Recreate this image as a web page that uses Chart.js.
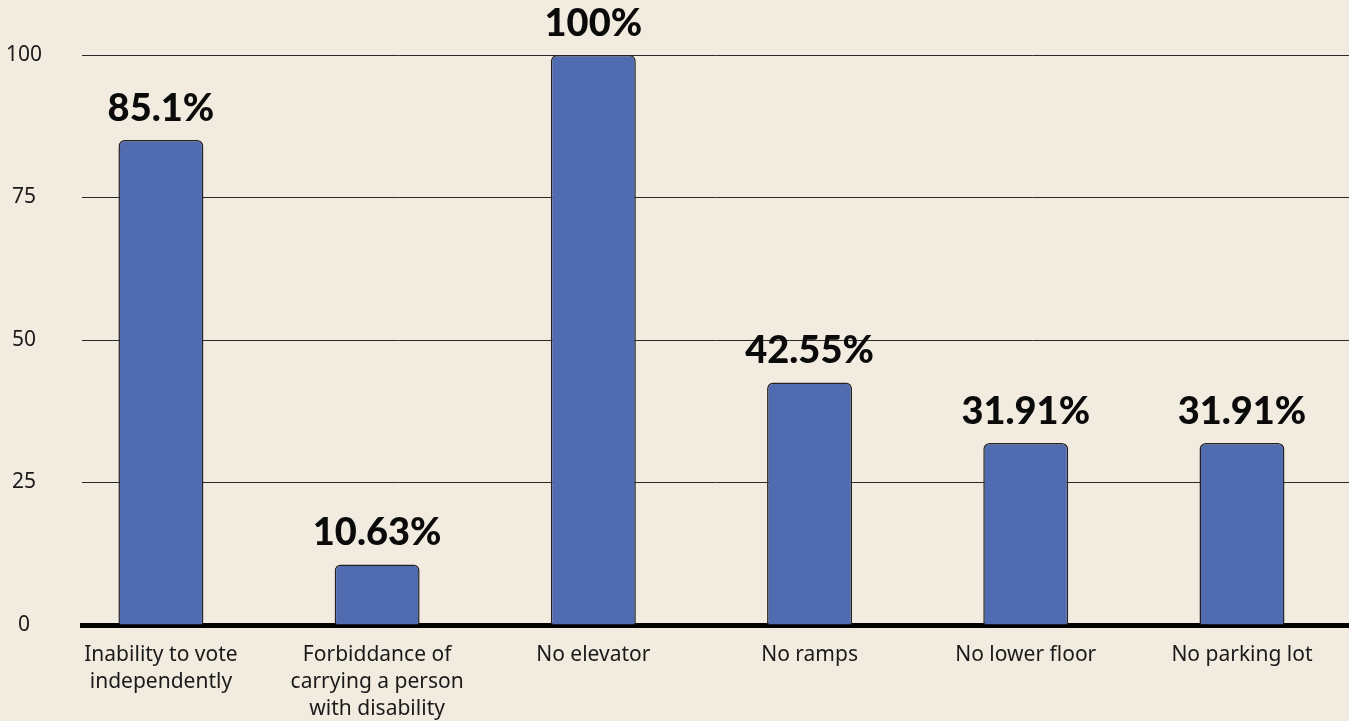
<!DOCTYPE html>
<html>
<head>
<meta charset="utf-8">
<script src="https://cdn.jsdelivr.net/npm/chart.js@4"></script>
<style>
  html, body { margin: 0; padding: 0; background: #f2ebdf; }
  #wrap { width: 1349px; height: 721px; }
</style>
</head>
<body>
<div id="wrap"><canvas id="chart"></canvas></div>
<script>
var categories = [
    ["Inability to vote", "independently"],
    ["Forbiddance of", "carrying a person", "with disability"],
    "No elevator",
    "No ramps",
    "No lower floor",
    "No parking lot"
];
var values = [85.1, 10.63, 100, 42.55, 31.91, 31.91];
var yTicks = [0, 25, 50, 75, 100];

// draws the big percent labels above each bar
const valueLabels = {
    id: "valueLabels",
    afterDatasetsDraw(chart) {
        var ctx = chart.ctx;
        var meta = chart.getDatasetMeta(0);
        ctx.save();
        ctx.font = "900 38px Lato";
        ctx.fillStyle = "#0a0a0a";
        ctx.textAlign = "center";
        ctx.textBaseline = "alphabetic";
        meta.data.forEach(function (bar, i) {
            ctx.fillText(values[i] + "%", bar.x, bar.y - 19);
        });
        ctx.restore();
    }
};

function init_bar_plot(container_name) {
    var ctx = document.getElementById(container_name).getContext("2d");
    const config = {
        type: "bar",
        data: {
            datasets: [{
                data: values.map((v, i) => ({ x: i, y: v })),
                backgroundColor: "#506bb0",
                borderColor: "#222",
                borderWidth: 1.5,
                borderRadius: 6,
                borderSkipped: "bottom",
                categoryPercentage: 1,
                barPercentage: 0.393
            }]
        },
        options: {
            responsive: true,
            maintainAspectRatio: false,
            animation: false,
            plugins: {
                legend: { display: false },
                tooltip: { enabled: false }
            },
            scales: {
                x: {
                    type: "linear",
                    offset: false,
                    min: -0.365,
                    max: 5.495,
                    afterBuildTicks: function (scale) {
                        scale.ticks = categories.map((c, i) => ({ value: i }));
                    },
                    grid: { display: false },
                    border: { display: true, color: "#000", width: 5 },
                    ticks: {
                        color: "#1a1a1a",
                        font: { family: "Noto Sans", size: 21, lineHeight: 1.3 },
                        padding: 8,
                        maxRotation: 0,
                        autoSkip: false,
                        callback: function (value) { return categories[value]; }
                    },
                    afterFit: function (scale) { scale.height = 96; }
                },
                y: {
                    min: 0,
                    max: 100,
                    afterBuildTicks: function (scale) {
                        scale.ticks = yTicks.map(v => ({ value: v }));
                    },
                    grid: {
                        color: "#2a2a2a",
                        lineWidth: 1,
                        drawTicks: false
                    },
                    border: { display: false },
                    ticks: {
                        color: "#1a1a1a",
                        font: { family: "Noto Sans", size: 21 },
                        padding: 40,
                        crossAlign: "center"
                    },
                    afterFit: function (scale) { scale.width = 82; }
                }
            },
            layout: {
                padding: { left: 0, right: 0, top: 55, bottom: 0 }
            }
        },
        plugins: [valueLabels]
    };
    var myChart = new Chart(ctx, config);
    return myChart;
}

init_bar_plot("chart");
</script>
</body>
</html>
